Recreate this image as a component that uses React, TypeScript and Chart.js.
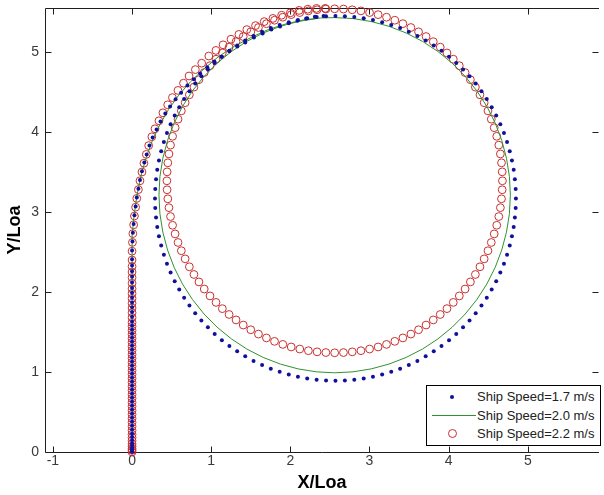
import React, { useEffect, useRef } from "react";
import { Chart, registerables } from "chart.js";

Chart.register(...registerables);

// ---------- tick labels ----------
const xTicks = [-1, 0, 1, 2, 3, 4, 5];
const yTicks = [0, 1, 2, 3, 4, 5];
const legendLabels = ["Ship Speed=1.7 m/s", "Ship Speed=2.0 m/s", "Ship Speed=2.2 m/s"];

// ---------- Ship Speed = 1.7 m/s (blue dots) ----------
const blueStraightY = [0, 0.01, 0.03, 0.05, 0.08, 0.11, 0.15, 0.19, 0.23, 0.28, 0.33, 0.38, 0.43, 0.48, 0.53, 0.58, 0.63, 0.68, 0.73, 0.78, 0.83, 0.88, 0.93, 0.98, 1.03, 1.08, 1.13, 1.18, 1.23, 1.28, 1.33, 1.38, 1.43, 1.48, 1.53, 1.58, 1.63, 1.69, 1.75, 1.81, 1.87, 1.93, 1.99, 2.05, 2.12, 2.19, 2.26, 2.33, 2.41];
const blueTurnX = [0.0, 0.005, 0.01, 0.02, 0.03, 0.045, 0.06, 0.08, 0.1, 0.125, 0.155, 0.185, 0.22, 0.26, 0.31, 0.36, 0.42, 0.48, 0.55, 0.62, 0.7, 0.78, 0.86, 0.95, 1.04, 1.13, 1.23, 1.33, 1.43, 1.54, 1.65, 1.76, 1.87, 1.98, 2.09, 2.2, 2.31, 2.42];
const blueTurnY = [2.52, 2.63, 2.74, 2.85, 2.96, 3.07, 3.18, 3.29, 3.4, 3.51, 3.62, 3.72, 3.83, 3.93, 4.03, 4.13, 4.23, 4.32, 4.41, 4.49, 4.58, 4.66, 4.73, 4.81, 4.88, 4.94, 5.01, 5.07, 5.12, 5.18, 5.23, 5.28, 5.32, 5.36, 5.39, 5.42, 5.44, 5.45];
const blueCircleX = [
  2.570, 2.689, 2.808, 2.927, 3.044, 3.160, 3.275, 3.387, 3.497, 3.605, 3.710, 3.812, 3.910, 4.005, 4.096, 4.182, 4.264, 4.342, 4.415, 4.482, 4.544, 4.601, 4.653, 4.699, 4.738, 4.772, 4.800, 4.822, 4.837, 4.847,
  4.850, 4.847, 4.837, 4.822, 4.800, 4.772, 4.738, 4.699, 4.653, 4.601, 4.544, 4.482, 4.415, 4.342, 4.264, 4.182, 4.096, 4.005, 3.910, 3.812, 3.710, 3.605, 3.497, 3.387, 3.275, 3.160, 3.044, 2.927, 2.808, 2.689,
  2.570, 2.451, 2.332, 2.213, 2.096, 1.980, 1.865, 1.753, 1.643, 1.535, 1.430, 1.328, 1.230, 1.135, 1.044, 0.958, 0.876, 0.798, 0.725, 0.658, 0.596, 0.539, 0.487, 0.441, 0.402, 0.368, 0.340, 0.318, 0.303, 0.293,
  0.290, 0.293, 0.303, 0.318, 0.340, 0.368, 0.402, 0.441, 0.487, 0.539, 0.596, 0.658, 0.725, 0.798, 0.876, 0.958, 1.044, 1.135, 1.230, 1.328, 1.430, 1.535, 1.643, 1.753, 1.865, 1.980, 2.096, 2.213, 2.332, 2.451,
];
const blueCircleY = [
  5.450, 5.447, 5.437, 5.422, 5.400, 5.372, 5.338, 5.299, 5.253, 5.201, 5.144, 5.082, 5.015, 4.942, 4.864, 4.782, 4.696, 4.605, 4.510, 4.412, 4.310, 4.205, 4.097, 3.987, 3.875, 3.760, 3.644, 3.527, 3.408, 3.289,
  3.170, 3.051, 2.932, 2.813, 2.696, 2.580, 2.465, 2.353, 2.243, 2.135, 2.030, 1.928, 1.830, 1.735, 1.644, 1.558, 1.476, 1.398, 1.325, 1.258, 1.196, 1.139, 1.087, 1.041, 1.002, 0.968, 0.940, 0.918, 0.903, 0.893,
  0.890, 0.893, 0.903, 0.918, 0.940, 0.968, 1.002, 1.041, 1.087, 1.139, 1.196, 1.258, 1.325, 1.398, 1.476, 1.558, 1.644, 1.735, 1.830, 1.928, 2.030, 2.135, 2.243, 2.353, 2.465, 2.580, 2.696, 2.813, 2.932, 3.051,
  3.170, 3.289, 3.408, 3.527, 3.644, 3.760, 3.875, 3.987, 4.097, 4.205, 4.310, 4.412, 4.510, 4.605, 4.696, 4.782, 4.864, 4.942, 5.015, 5.082, 5.144, 5.201, 5.253, 5.299, 5.338, 5.372, 5.400, 5.422, 5.437, 5.447,
];

// ---------- Ship Speed = 2.0 m/s (green line) ----------
const greenStraightY = [0, 0.5, 1.0, 1.5, 2.0, 2.5];
const greenTurnX = [0.005, 0.02, 0.045, 0.08, 0.125, 0.185, 0.26, 0.35, 0.46, 0.59, 0.74, 0.91, 1.09, 1.29, 1.5, 1.72, 1.94, 2.16, 2.38];
const greenTurnY = [2.7, 2.9, 3.1, 3.3, 3.5, 3.7, 3.9, 4.09, 4.28, 4.46, 4.63, 4.79, 4.94, 5.07, 5.18, 5.28, 5.35, 5.4, 5.425];
const greenCircleX = [
  2.560, 2.792, 3.022, 3.246, 3.463, 3.670, 3.865, 4.045, 4.210, 4.356, 4.483, 4.588, 4.671, 4.731, 4.768,
  4.780, 4.768, 4.731, 4.671, 4.588, 4.483, 4.356, 4.210, 4.045, 3.865, 3.670, 3.463, 3.246, 3.022, 2.792,
  2.560, 2.328, 2.098, 1.874, 1.657, 1.450, 1.255, 1.075, 0.910, 0.764, 0.637, 0.532, 0.449, 0.389, 0.352,
  0.340, 0.352, 0.389, 0.449, 0.532, 0.637, 0.764, 0.910, 1.075, 1.255, 1.450, 1.657, 1.874, 2.098, 2.328,
];
const greenCircleY = [
  5.430, 5.418, 5.381, 5.321, 5.238, 5.133, 5.006, 4.860, 4.695, 4.515, 4.320, 4.113, 3.896, 3.672, 3.442,
  3.210, 2.978, 2.748, 2.524, 2.307, 2.100, 1.905, 1.725, 1.560, 1.414, 1.287, 1.182, 1.099, 1.039, 1.002,
  0.990, 1.002, 1.039, 1.099, 1.182, 1.287, 1.414, 1.560, 1.725, 1.905, 2.100, 2.307, 2.524, 2.748, 2.978,
  3.210, 3.442, 3.672, 3.896, 4.113, 4.320, 4.515, 4.695, 4.860, 5.006, 5.133, 5.238, 5.321, 5.381, 5.418,
];

// ---------- Ship Speed = 2.2 m/s (red open circles) ----------
const redStraightY = [0, 0.02, 0.04, 0.07, 0.1, 0.14, 0.18, 0.22, 0.27, 0.32, 0.37, 0.42, 0.47, 0.52, 0.57, 0.62, 0.67, 0.72, 0.77, 0.82, 0.87, 0.92, 0.97, 1.02, 1.07, 1.12, 1.17, 1.22, 1.27, 1.32, 1.37, 1.42, 1.47, 1.52, 1.57, 1.62, 1.68, 1.74, 1.8, 1.86, 1.92, 1.98, 2.04, 2.11, 2.18, 2.25, 2.32, 2.4];
const redTurnX = [0.0, 0.005, 0.01, 0.02, 0.03, 0.045, 0.06, 0.08, 0.1, 0.125, 0.15, 0.18, 0.21, 0.25, 0.29, 0.34, 0.39, 0.45, 0.51, 0.58, 0.65, 0.72, 0.8, 0.88, 0.97, 1.06, 1.15, 1.25, 1.35, 1.45, 1.56, 1.67, 1.78, 1.89, 2.0, 2.11, 2.22, 2.33, 2.44];
const redTurnY = [2.51, 2.62, 2.73, 2.84, 2.95, 3.06, 3.17, 3.28, 3.39, 3.5, 3.61, 3.72, 3.83, 3.94, 4.04, 4.14, 4.24, 4.34, 4.43, 4.52, 4.61, 4.7, 4.78, 4.86, 4.95, 5.02, 5.09, 5.16, 5.22, 5.28, 5.33, 5.38, 5.42, 5.46, 5.49, 5.52, 5.535, 5.545, 5.545];
const redCircleX = [
  2.560, 2.671, 2.782, 2.892, 3.001, 3.109, 3.215, 3.320, 3.422, 3.523, 3.620, 3.715, 3.806, 3.894, 3.979, 4.059, 4.135, 4.208, 4.275, 4.338, 4.396, 4.449, 4.497, 4.539, 4.576, 4.608, 4.634, 4.654, 4.668, 4.677,
  4.680, 4.677, 4.668, 4.654, 4.634, 4.608, 4.576, 4.539, 4.497, 4.449, 4.396, 4.338, 4.275, 4.208, 4.135, 4.059, 3.979, 3.894, 3.806, 3.715, 3.620, 3.523, 3.422, 3.320, 3.215, 3.109, 3.001, 2.892, 2.782, 2.671,
  2.560, 2.449, 2.338, 2.228, 2.119, 2.011, 1.905, 1.800, 1.698, 1.597, 1.500, 1.405, 1.314, 1.226, 1.141, 1.061, 0.985, 0.912, 0.845, 0.782, 0.724, 0.671, 0.623, 0.581, 0.544, 0.512, 0.486, 0.466, 0.452, 0.443,
  0.440, 0.443, 0.452, 0.466, 0.486, 0.512, 0.544, 0.581, 0.623, 0.671, 0.724, 0.782, 0.845, 0.912, 0.985, 1.061, 1.141, 1.226, 1.314, 1.405, 1.500, 1.597, 1.698, 1.800, 1.905, 2.011, 2.119, 2.228, 2.338, 2.449,
];
const redCircleY = [
  5.540, 5.537, 5.528, 5.514, 5.493, 5.467, 5.435, 5.397, 5.354, 5.306, 5.252, 5.193, 5.129, 5.061, 4.988, 4.910, 4.829, 4.743, 4.654, 4.561, 4.465, 4.366, 4.264, 4.160, 4.054, 3.946, 3.836, 3.726, 3.615, 3.502,
  3.390, 3.278, 3.165, 3.054, 2.943, 2.834, 2.726, 2.619, 2.516, 2.414, 2.315, 2.219, 2.126, 2.037, 1.951, 1.870, 1.792, 1.719, 1.651, 1.587, 1.528, 1.474, 1.426, 1.383, 1.345, 1.313, 1.287, 1.266, 1.252, 1.243,
  1.240, 1.243, 1.252, 1.266, 1.287, 1.313, 1.345, 1.383, 1.426, 1.474, 1.528, 1.587, 1.651, 1.719, 1.792, 1.870, 1.951, 2.037, 2.126, 2.219, 2.315, 2.414, 2.516, 2.619, 2.726, 2.834, 2.943, 3.054, 3.165, 3.278,
  3.390, 3.502, 3.615, 3.726, 3.836, 3.946, 4.054, 4.160, 4.264, 4.366, 4.465, 4.561, 4.654, 4.743, 4.829, 4.910, 4.988, 5.061, 5.129, 5.193, 5.252, 5.306, 5.354, 5.397, 5.435, 5.467, 5.493, 5.514, 5.528, 5.537,
];

// ---------- helpers to build the library's point objects ----------
const straight = (ys: number[]) => ys.map((y) => ({ x: 0, y }));
const pairs = (xs: number[], ys: number[]) => xs.map((x, i) => ({ x, y: ys[i] }));

const BLUE = "#10109c";
const GREEN = "#2f922f";
const RED = "#c83030";
const FONT = '"Liberation Sans", Arial, Helvetica, sans-serif';

const framePlugin = {
  id: "matlabFrame",
  beforeDatasetsDraw(chart: any) {
    const { ctx, chartArea: a, scales } = chart;
    const L = Math.round(a.left) + 0.5;
    const T = Math.round(a.top) + 0.5;
    const B = Math.round(a.bottom) + 0.5;
    const R = Math.round(a.right) - 0.5;
    const tl = 6;
    ctx.save();
    ctx.strokeStyle = "#1e1e1e";
    ctx.lineWidth = 1;
    ctx.beginPath();
    ctx.moveTo(L, B);
    ctx.lineTo(L, T);
    ctx.lineTo(a.right, T);
    ctx.moveTo(L, B);
    ctx.lineTo(a.right, B);
    xTicks.forEach((v) => {
      const px = Math.round(scales.x.getPixelForValue(v)) + 0.5;
      ctx.moveTo(px, B);
      ctx.lineTo(px, B - tl);
      ctx.moveTo(px, T);
      ctx.lineTo(px, T + tl);
    });
    yTicks.forEach((v) => {
      const py = Math.round(scales.y.getPixelForValue(v)) + 0.5;
      ctx.moveTo(L, py);
      ctx.lineTo(L + tl, py);
      ctx.moveTo(R, py);
      ctx.lineTo(R - tl, py);
    });
    ctx.stroke();
    ctx.restore();
  },
};

export default function App() {
  const ref = useRef<HTMLCanvasElement>(null);

  useEffect(() => {
    document.body.style.margin = "0";
    const canvas = ref.current;
    if (!canvas) return;
    const chart = new Chart(canvas, {
      type: "scatter",
      data: {
        datasets: [
          {
            label: legendLabels[0],
            data: [...straight(blueStraightY), ...pairs(blueTurnX, blueTurnY), ...pairs(blueCircleX, blueCircleY)],
            showLine: false,
            pointStyle: "circle",
            pointRadius: 2,
            pointBackgroundColor: BLUE,
            pointBorderColor: BLUE,
            pointBorderWidth: 0,
            clip: false as any,
          },
          {
            label: legendLabels[1],
            data: [...straight(greenStraightY), ...pairs(greenTurnX, greenTurnY), ...pairs(greenCircleX, greenCircleY)],
            showLine: true,
            borderColor: GREEN,
            borderWidth: 1,
            pointRadius: 0,
            fill: false,
            tension: 0,
          },
          {
            label: legendLabels[2],
            data: [...straight(redStraightY), ...pairs(redTurnX, redTurnY), ...pairs(redCircleX, redCircleY)],
            showLine: false,
            pointStyle: "circle",
            pointRadius: 3.9,
            pointBackgroundColor: "rgba(0,0,0,0)",
            pointBorderColor: RED,
            pointBorderWidth: 1,
            clip: false as any,
          },
        ],
      },
      options: {
        animation: false,
        responsive: false,
        devicePixelRatio: 1,
        events: [],
        layout: { padding: { top: 8, left: 0, right: 0, bottom: 0 } },
        plugins: { legend: { display: false }, tooltip: { enabled: false } },
        scales: {
          x: {
            type: "linear",
            position: "bottom",
            min: -1.1,
            max: 5.9,
            afterBuildTicks: (s: any) => {
              s.ticks = xTicks.map((v) => ({ value: v }));
            },
            afterFit: (s: any) => {
              s.height = 43;
              s.paddingLeft = 0;
              s.paddingRight = 0;
            },
            grid: { display: false, drawTicks: false },
            border: { display: false },
            ticks: {
              font: { family: FONT, size: 14 },
              color: "#3a3a3a",
              padding: 1,
              maxRotation: 0,
              autoSkip: false,
              callback: (v: any) => String(v),
            },
            title: {
              display: true,
              text: "X/Loa",
              font: { family: FONT, size: 18, weight: "bold" },
              color: "#000",
              padding: { top: 0, bottom: 1 },
            },
          },
          y: {
            type: "linear",
            position: "left",
            min: 0,
            max: 5.55,
            afterBuildTicks: (s: any) => {
              s.ticks = yTicks.map((v) => ({ value: v }));
            },
            afterFit: (s: any) => {
              s.width = 45;
              s.paddingTop = 0;
              s.paddingBottom = 0;
            },
            grid: { display: false, drawTicks: false },
            border: { display: false },
            ticks: {
              font: { family: FONT, size: 14 },
              color: "#3a3a3a",
              padding: 6,
              autoSkip: false,
              callback: (v: any) => String(v),
            },
            title: {
              display: true,
              text: "Y/Loa",
              font: { family: FONT, size: 18, weight: "bold" },
              color: "#000",
              padding: { top: 4, bottom: 0 },
            },
          },
        },
      },
      plugins: [framePlugin],
    } as any);
    return () => chart.destroy();
  }, []);

  const rowTop = [2, 21, 39];

  return (
    <div style={{ position: "relative", width: 604, height: 495, background: "#fff", overflow: "hidden" }}>
      <canvas ref={ref} width={604} height={495} style={{ display: "block" }} />
      <div
        style={{
          position: "absolute",
          left: 426,
          top: 385,
          width: 175,
          height: 61,
          boxSizing: "border-box",
          border: "1px solid #000",
          background: "#fff",
          fontFamily: FONT,
          fontSize: 13,
          color: "#222",
        }}
      >
        {legendLabels.map((t, i) => (
          <div key={t} style={{ position: "absolute", left: 0, top: rowTop[i], width: 173, height: 18 }}>
            {i === 0 && (
              <div style={{ position: "absolute", left: 23, top: 7, width: 4, height: 4, borderRadius: "50%", background: BLUE }} />
            )}
            {i === 1 && (
              <div style={{ position: "absolute", left: 5, top: 8, width: 44, height: 1, background: GREEN }} />
            )}
            {i === 2 && (
              <div
                style={{
                  position: "absolute",
                  left: 21,
                  top: 4,
                  width: 9,
                  height: 9,
                  boxSizing: "border-box",
                  borderRadius: "50%",
                  border: `1px solid ${RED}`,
                }}
              />
            )}
            <div style={{ position: "absolute", left: 50, top: 0, lineHeight: "18px", whiteSpace: "nowrap" }}>{t}</div>
          </div>
        ))}
      </div>
    </div>
  );
}
